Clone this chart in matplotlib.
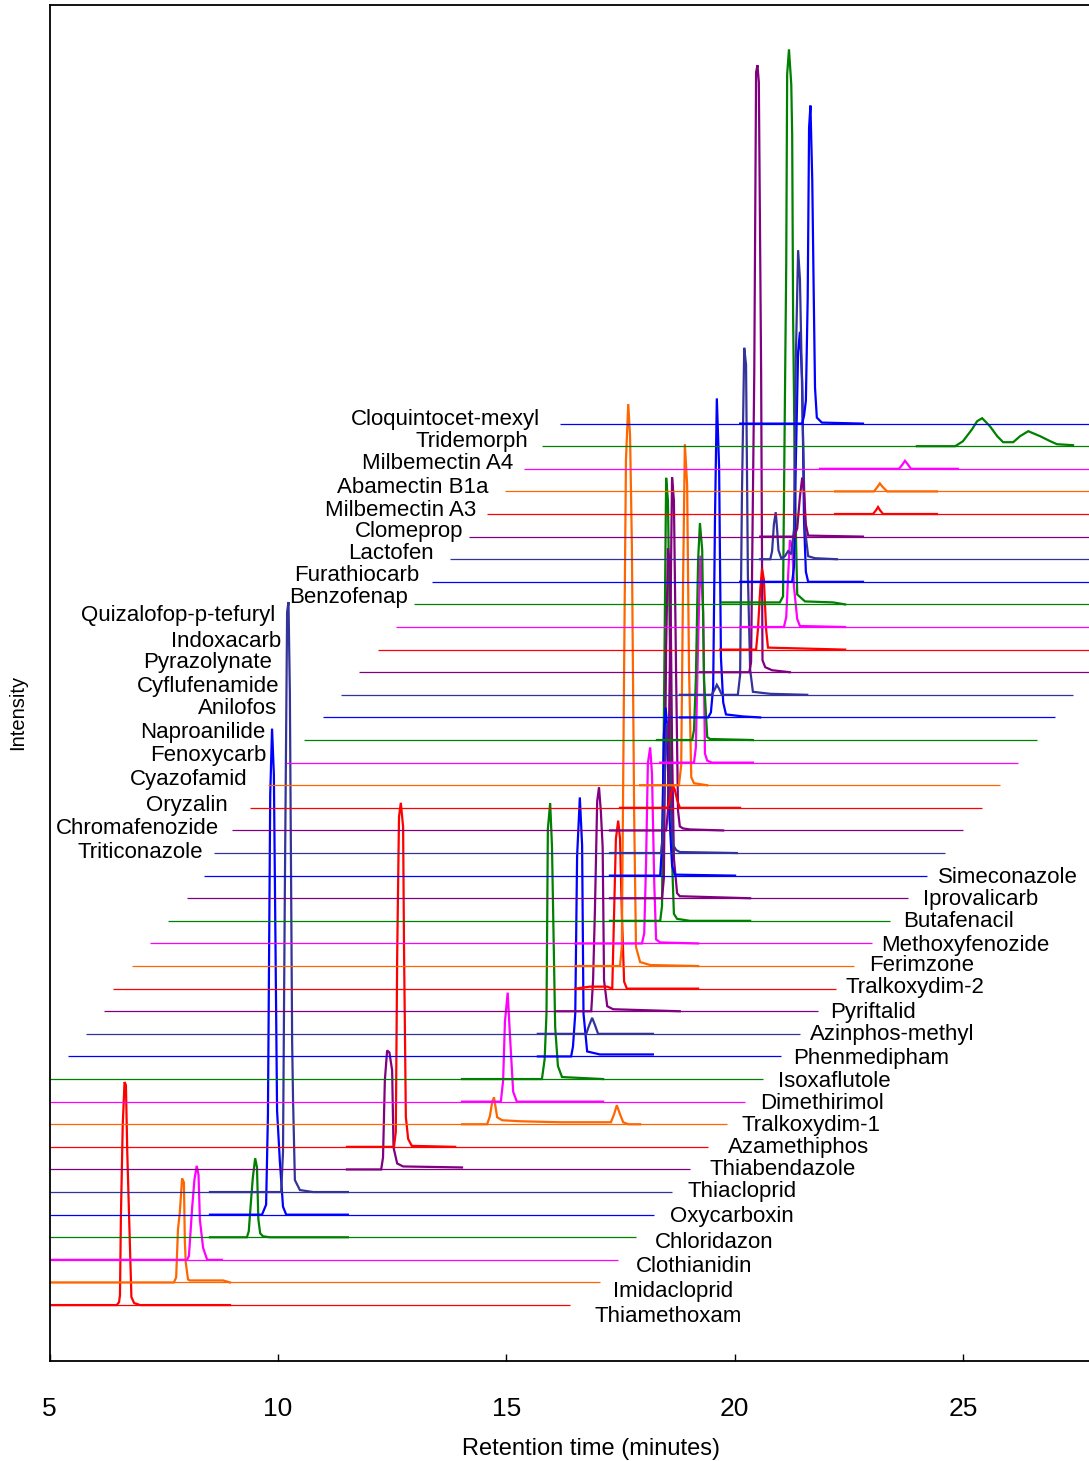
import numpy as np
import matplotlib.pyplot as plt
from matplotlib import font_manager

# compounds, bottom trace first
compounds = ['Thiamethoxam', 'Imidacloprid', 'Clothianidin', 'Chloridazon', 'Oxycarboxin',
             'Thiacloprid', 'Thiabendazole', 'Azamethiphos', 'Tralkoxydim-1', 'Dimethirimol',
             'Isoxaflutole', 'Phenmedipham', 'Azinphos-methyl', 'Pyriftalid', 'Tralkoxydim-2',
             'Ferimzone', 'Methoxyfenozide', 'Butafenacil', 'Iprovalicarb', 'Simeconazole',
             'Triticonazole', 'Chromafenozide', 'Oryzalin', 'Cyazofamid', 'Fenoxycarb',
             'Naproanilide', 'Anilofos', 'Cyflufenamide', 'Pyrazolynate', 'Indoxacarb',
             'Quizalofop-p-tefuryl', 'Benzofenap', 'Furathiocarb', 'Lactofen', 'Clomeprop',
             'Milbemectin A3', 'Abamectin B1a', 'Milbemectin A4', 'Tridemorph', 'Cloquintocet-mexyl']

# time range of each drawn trace (minutes, as shifted on the plot)
trace_start = [5.0] * 11 + [5.40, 5.79, 6.19, 6.39, 6.80, 7.20, 7.59, 8.01, 8.38,
                            8.60, 8.99, 9.39, 9.78, 10.18, 10.57, 10.99, 11.38, 11.77, 12.19,
                            12.58, 12.98, 13.37, 13.77, 14.18, 14.58, 14.97, 15.39, 15.78, 16.18]
trace_end = [16.40, 17.05, 17.45, 17.84, 18.24, 18.63, 19.02, 19.42, 19.83, 20.23,
             20.62, 21.02, 21.43, 21.83, 22.22, 22.61, 23.01, 23.40, 23.80, 24.21,
             24.61, 25.00, 25.42, 25.81, 26.21, 26.62, 27.02, 27.41] + [28.0] * 12

# recorded part of each chromatogram: time (min) and signal above baseline
peak_t = [
    [5.00, 6.47, 6.52, 6.54, 6.56, 6.60, 6.64, 6.67, 6.70, 6.75, 6.79, 6.85, 6.98, 8.95],
    [5.00, 7.72, 7.77, 7.81, 7.85, 7.90, 7.94, 7.96, 7.98, 8.03, 8.07, 8.80, 8.95],
    [5.00, 8.01, 8.05, 8.12, 8.17, 8.22, 8.26, 8.29, 8.36, 8.45, 8.77],
    [8.51, 9.32, 9.36, 9.41, 9.45, 9.50, 9.54, 9.57, 9.61, 9.67, 9.82, 11.53],
    [8.51, 9.65, 9.74, 9.78, 9.83, 9.87, 9.91, 9.98, 10.04, 10.11, 10.18, 11.53],
    [8.51, 10.07, 10.11, 10.15, 10.20, 10.23, 10.26, 10.31, 10.33, 10.37, 10.48, 10.77, 11.53],
    [11.51, 12.26, 12.30, 12.34, 12.39, 12.44, 12.50, 12.53, 12.61, 12.74, 14.03],
    [11.51, 12.54, 12.58, 12.61, 12.65, 12.69, 12.74, 12.76, 12.80, 12.85, 12.93, 13.88],
    [14.03, 14.58, 14.64, 14.69, 14.73, 14.80, 14.91, 15.30, 16.18, 17.05, 17.29, 17.36,
     17.42, 17.49, 17.56, 17.67, 17.93],
    [14.03, 14.88, 14.93, 14.97, 15.03, 15.08, 15.15, 15.23, 17.12],
    [14.03, 15.78, 15.84, 15.88, 15.91, 15.96, 16.00, 16.07, 16.13, 16.22, 17.12],
    [15.69, 16.42, 16.46, 16.51, 16.55, 16.61, 16.66, 16.69, 16.77, 17.05, 18.21],
    [15.69, 16.75, 16.81, 16.88, 16.94, 17.01, 18.21],
    [16.11, 16.86, 16.90, 16.94, 16.99, 17.03, 17.07, 17.11, 17.14, 17.21, 17.34, 18.80],
    [16.51, 16.83, 17.05, 17.21, 17.32, 17.36, 17.40, 17.45, 17.49, 17.53, 17.58, 17.64, 19.20],
    [16.51, 17.49, 17.53, 17.58, 17.62, 17.67, 17.71, 17.75, 17.80, 17.84, 17.93, 18.15, 19.20],
    [16.51, 17.97, 18.02, 18.06, 18.10, 18.15, 18.19, 18.24, 18.28, 18.37, 19.20],
    [17.27, 18.37, 18.41, 18.45, 18.50, 18.54, 18.59, 18.63, 18.67, 18.74, 19.02, 20.34],
    [17.27, 18.41, 18.45, 18.50, 18.54, 18.59, 18.63, 18.67, 18.74, 18.80, 20.34],
    [17.27, 18.37, 18.41, 18.45, 18.49, 18.52, 18.56, 18.63, 18.69, 20.01],
    [17.27, 18.39, 18.43, 18.48, 18.52, 18.56, 18.61, 18.65, 18.72, 18.80, 20.05],
    [17.27, 18.50, 18.54, 18.59, 18.63, 18.67, 18.72, 18.76, 18.80, 18.87, 19.02, 19.75],
    [17.49, 18.52, 18.56, 18.61, 18.65, 18.69, 18.74, 18.80, 20.12],
    [17.93, 18.78, 18.83, 18.87, 18.91, 18.96, 19.00, 19.05, 19.11, 19.40],
    [18.37, 19.11, 19.15, 19.20, 19.25, 19.31, 19.35, 19.40, 19.50, 20.40],
    [18.30, 19.07, 19.11, 19.15, 19.20, 19.24, 19.29, 19.33, 19.40, 19.46, 20.40],
    [18.80, 19.42, 19.48, 19.53, 19.57, 19.61, 19.66, 19.70, 19.75, 19.81, 20.18, 20.56],
    [18.80, 19.50, 19.57, 19.61, 19.66, 19.72, 20.07, 20.12, 20.16, 20.21, 20.25, 20.29,
     20.34, 20.40, 20.78, 21.59],
    [19.24, 20.32, 20.36, 20.43, 20.47, 20.50, 20.53, 20.58, 20.61, 20.67, 20.82, 21.21],
    [19.68, 20.47, 20.51, 20.56, 20.60, 20.64, 20.69, 20.73, 22.42],
    [20.12, 21.08, 21.13, 21.17, 21.21, 21.26, 21.30, 21.37, 21.43, 22.42],
    [19.72, 20.99, 21.06, 21.10, 21.13, 21.15, 21.19, 21.24, 21.26, 21.28, 21.32, 21.37,
     21.54, 22.16, 22.42],
    [20.12, 21.26, 21.30, 21.34, 21.39, 21.43, 21.48, 21.52, 21.56, 21.61, 22.81],
    [20.56, 20.78, 20.82, 20.86, 20.90, 20.93, 20.96, 21.02, 21.10, 21.17, 21.24, 21.30,
     21.34, 21.39, 21.43, 21.49, 21.54, 21.61, 21.76, 22.24],
    [20.56, 21.30, 21.37, 21.43, 21.48, 21.52, 21.56, 21.61, 22.81],
    [22.20, 23.03, 23.10, 23.14, 23.18, 23.25, 24.43],
    [22.20, 23.05, 23.12, 23.18, 23.25, 23.34, 24.43],
    [21.87, 23.60, 23.67, 23.73, 23.80, 23.86, 24.89],
    [23.99, 24.83, 25.00, 25.20, 25.31, 25.42, 25.59, 25.75, 25.88, 26.10, 26.25, 26.43,
     26.69, 26.91, 27.06, 27.41],
    [20.12, 21.48, 21.52, 21.56, 21.60, 21.63, 21.66, 21.70, 21.73, 21.76, 21.80, 21.91, 22.81],
]
peak_h = [
    [0, 0, 3, 10, 88, 180, 223, 220, 152, 72, 8, 2, 0, 0],
    [0, 0, 5, 53, 70, 104, 100, 42, 20, 3, 2, 2, 0],
    [0, 0, 4, 52, 80, 94, 85, 40, 12, 0, 0],
    [0, 0, 6, 37, 60, 79, 70, 18, 4, 1, 0, 0],
    [0, 0, 10, 100, 420, 486, 440, 104, 54, 8, 0, 0],
    [0, 0, 40, 300, 580, 590, 500, 150, 92, 12, 2, 0, 0],
    [0, 0, 12, 89, 119, 117, 99, 22, 6, 3, 2],
    [0, 0, 15, 190, 330, 344, 320, 199, 30, 8, 1, 0],
    [0, 0, 8, 22, 27, 7, 4, 3, 2, 2, 2, 10, 19, 10, 2, 0, 0],
    [0, 0, 21, 80, 109, 66, 10, 0, 0],
    [0, 0, 20, 66, 250, 276, 233, 52, 13, 2, 0],
    [0, 0, 10, 43, 200, 259, 211, 43, 5, 2, 2],
    [0, 0, 8, 16, 9, 0, 0],
    [0, 0, 31, 100, 210, 224, 200, 164, 31, 5, 2, 0],
    [0, 2, 2, 2, 0, 75, 150, 168, 150, 75, 7, 0, 0],
    [0, 0, 20, 300, 506, 562, 530, 420, 150, 19, 4, 1, 0],
    [0, 0, 10, 80, 180, 196, 170, 60, 4, 1, 0],
    [0, 0, 15, 200, 443, 420, 250, 60, 7, 2, 0, 0],
    [0, 0, 20, 250, 350, 330, 150, 40, 5, 2, 0],
    [0, 0, 30, 140, 168, 150, 70, 10, 1, 0],
    [0, 0, 20, 90, 130, 110, 40, 8, 3, 1, 0],
    [0, 0, 20, 200, 353, 330, 150, 20, 4, 2, 1, 0],
    [0, 0, 3, 15, 22, 18, 8, 0, 0],
    [0, 0, 20, 200, 341, 300, 120, 8, 2, 0],
    [0, 0, 15, 120, 207, 150, 9, 2, 0, 0],
    [0, 0, 10, 60, 180, 217, 190, 60, 3, 1, 0],
    [0, 0, 5, 30, 200, 319, 250, 60, 15, 3, 1, 0],
    [0, 0, 6, 10, 6, 0, 0, 20, 200, 347, 330, 120, 25, 3, 1, 0],
    [0, 0, 10, 300, 600, 607, 590, 300, 12, 5, 2, 0],
    [0, 0, 20, 60, 81, 70, 20, 2, 0],
    [0, 0, 10, 50, 87, 80, 40, 8, 1, 0],
    [2, 2, 8, 200, 342, 530, 555, 520, 470, 290, 120, 10, 3, 2, 0],
    [0, 0, 15, 120, 230, 250, 200, 60, 10, 0, 0],
    [0, 0, 8, 35, 47, 30, 9, 1, 3, 8, 5, 30, 200, 309, 280, 140, 30, 3, 1, 0],
    [0, 0, 8, 40, 59, 45, 12, 1, 0],
    [0, 0, 4, 7, 4, 0, 0],
    [0, 0, 4, 8, 4, 0, 0],
    [0, 0, 4, 8, 4, 0, 0],
    [0, 0, 5, 17, 25, 28, 20, 10, 4, 4, 10, 15, 10, 5, 2, 1],
    [0, 0, 8, 23, 126, 296, 318, 243, 136, 36, 6, 1, 0],
]

# where the compound names sit (minutes, intensity)
label_t = [16.94, 17.34, 17.84, 18.26, 18.59, 18.96, 19.44, 19.86, 20.14, 20.56,
           20.95, 21.28, 21.65, 22.09, 22.42, 22.94, 23.21, 23.69, 24.13, 24.45,
           8.36, 8.71, 8.90, 9.34, 9.74, 9.72, 9.98, 10.02, 9.87, 10.07,
           9.93, 12.85, 13.09, 13.42, 14.05, 14.34, 14.62, 15.15, 15.48, 15.74]
label_y = [45, 70, 95, 119, 145, 170, 192, 214, 236, 258,
           280, 303, 327, 349, 374, 396, 416, 440, 462, 484,
           509, 533, 556, 582, 606, 629, 653, 675, 699, 720,
           746, 764, 786, 808, 830, 851, 874, 898, 919, 941]

RED, ORANGE, MAGENTA, GREEN = '#FF0000', '#FF6600', '#FF00FF', '#008000'
BLUE, SLATE, PURPLE = '#0000FF', '#333399', '#800080'
colors = [RED, ORANGE, MAGENTA, GREEN, BLUE, SLATE, PURPLE,
          RED, ORANGE, MAGENTA, GREEN, BLUE, SLATE, PURPLE,
          RED, ORANGE, MAGENTA, GREEN, PURPLE, BLUE, SLATE, PURPLE,
          RED, ORANGE, MAGENTA, GREEN, BLUE, SLATE, PURPLE,
          RED, MAGENTA, GREEN, BLUE, SLATE, PURPLE,
          RED, ORANGE, MAGENTA, GREEN, BLUE]

# axis text in the original is a narrow face; fall back to smaller regular Arial metrics
names = {f.name for f in font_manager.fontManager.ttflist}
if 'Liberation Sans Narrow' in names:
    axis_font, tick_size, xlab_size = 'Liberation Sans Narrow', 21, 20
else:
    axis_font, tick_size, xlab_size = 'Liberation Sans', 19, 17
plt.rcParams['font.family'] = ['Liberation Sans', 'DejaVu Sans']

fig = plt.figure(figsize=(10.89, 14.61), dpi=100)
ax = fig.add_axes([0.0456, 0.0684, 0.9544, 0.9282])

base0, step = 56, 22.6
for i, name in enumerate(compounds):
    off = base0 + step * i
    ax.plot([trace_start[i], trace_end[i]], [off, off], color=colors[i], lw=0.9,
            solid_capstyle='butt')
    ax.plot(peak_t[i], np.array(peak_h[i]) + off, color=colors[i], lw=1.6,
            solid_joinstyle='miter')
    ha = 'left' if i < 20 else 'right'
    ax.text(label_t[i], label_y[i], name, ha=ha, va='center', fontsize=16, color='black')

ax.set_xlim(5, 27.76)
ax.set_ylim(0, 1356)
ax.set_yticks([])
ax.set_xticks([5, 10, 15, 20, 25])
ax.tick_params(axis='x', direction='in', length=5, width=1, pad=26, labelsize=tick_size)
for lab in ax.get_xticklabels():
    lab.set_family(axis_font)
ax.spines['right'].set_visible(False)
for s in ['left', 'bottom', 'top']:
    ax.spines[s].set_linewidth(1.3)

fig.text(591 / 1089, 1 - 1449 / 1461, 'Retention time (minutes)', ha='center', va='center',
         fontsize=xlab_size, family=axis_font)
fig.text(18 / 1089, 1 - 712 / 1461, 'Intensity', ha='center', va='center', rotation=90,
         fontsize=14.5)

fig.savefig('out.png', dpi=100)
